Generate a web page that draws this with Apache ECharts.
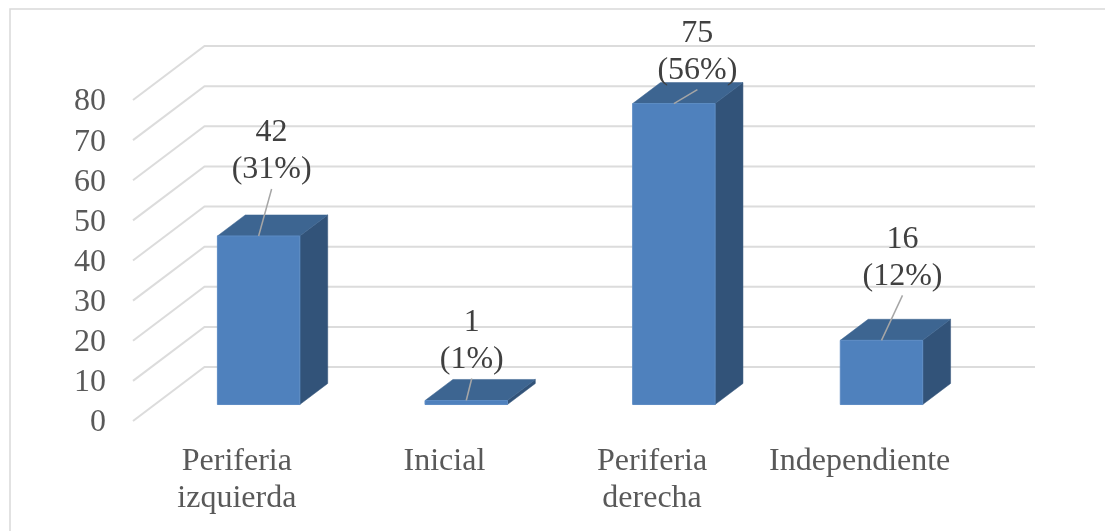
<!DOCTYPE html>
<html>
<head>
<meta charset="utf-8">
<style>html,body{margin:0;padding:0;background:#fff}#c{width:1105px;height:531px}</style>
<script src="https://cdn.jsdelivr.net/npm/echarts@6/dist/echarts.min.js"></script>
</head>
<body>
<div id="c"></div>
<script>
const categories = ['Periferia\nizquierda', 'Inicial', 'Periferia\nderecha', 'Independiente'];
const counts = [42, 1, 75, 16];
const percents = ['31%', '1%', '56%', '12%'];
const yTicks = [0, 10, 20, 30, 40, 50, 60, 70, 80];

// Label placement relative to each bar (layout, not data)
const labelShiftX = [13, 5.5, 23.5, 21];
const leaderLength = [47, 22, 14, 45];

const DEPTH_X = 71.5, DEPTH_Y = 54;
const BAR_NEAR = 0.305, BAR_FAR = 0.695, BAR_WIDTH = 0.397;
const SERIF = '"Liberation Serif","Times New Roman",serif';

function poly(points, fill) {
  return { type: 'polygon', shape: { points }, style: { fill, stroke: fill, lineWidth: 0.5 } };
}

const chart = echarts.init(document.getElementById('c'), null, { renderer: 'canvas' });
chart.setOption({
  animation: false,
  backgroundColor: '#ffffff',
  graphic: [{
    type: 'polyline', silent: true, z: 0,
    shape: { points: [[10, 531], [10, 9], [1105, 9]] },
    style: { stroke: '#d9d9d9', lineWidth: 1.5, fill: null }
  }],
  grid: { left: 133, right: 141.5, top: 100, height: 321, containLabel: false },
  xAxis: {
    type: 'category', data: categories,
    axisLine: { show: false }, axisTick: { show: false }, splitLine: { show: false },
    axisLabel: { interval: 0, margin: 22, color: '#595959', fontFamily: SERIF, fontSize: 32, lineHeight: 37, verticalAlign: 'top' }
  },
  yAxis: {
    type: 'value', min: 0, max: 80, interval: 10,
    axisLine: { show: false }, axisTick: { show: false }, splitLine: { show: false },
    axisLabel: { margin: 27, color: '#595959', fontFamily: SERIF, fontSize: 32, verticalAlign: 'top', lineHeight: 4 }
  },
  series: [
    {
      type: 'custom', coordinateSystem: 'cartesian2d', z: 1, silent: true, clip: false,
      data: yTicks.map(v => [0, v]),
      encode: { x: 0, y: 1 },
      renderItem(params, api) {
        const y = api.coord([0, api.value(1)])[1];
        const g = params.coordSys;
        return {
          type: 'polyline',
          shape: { points: [[g.x, y], [g.x + DEPTH_X, y - DEPTH_Y], [g.x + g.width + DEPTH_X, y - DEPTH_Y]] },
          style: { stroke: '#dcdcdc', lineWidth: 2, fill: null }
        };
      }
    },
    {
      type: 'custom', coordinateSystem: 'cartesian2d', z: 2, silent: true, clip: false,
      data: counts.map((v, i) => [i, v]),
      encode: { x: 0, y: 1 },
      renderItem(params, api) {
        const i = api.value(0), v = api.value(1);
        const center = api.coord([i, 0]);
        const top = api.coord([i, v]);
        const bw = api.size([1, 0])[0] * BAR_WIDTH;
        const ox = DEPTH_X * BAR_NEAR, oy = DEPTH_Y * BAR_NEAR;
        const dx = DEPTH_X * (BAR_FAR - BAR_NEAR), dy = DEPTH_Y * (BAR_FAR - BAR_NEAR);
        const l = center[0] + ox - bw / 2, r = l + bw;
        const b = center[1] - oy, t = top[1] - oy;
        const mid = (l + r) / 2;
        const lx = mid + labelShiftX[i], ly = t - leaderLength[i];
        const textStyle = (text, y) => ({
          type: 'text', x: lx, y,
          style: { text, fill: '#404040', font: '32px ' + SERIF, align: 'center', verticalAlign: 'middle' }
        });
        return {
          type: 'group',
          children: [
            poly([[r, b], [r + dx, b - dy], [r + dx, t - dy], [r, t]], '#325379'),
            poly([[l, t], [r, t], [r + dx, t - dy], [l + dx, t - dy]], '#3d6591'),
            { type: 'rect', shape: { x: l, y: t, width: bw, height: b - t },
              style: { fill: '#4f81bd', stroke: '#5d8cc4', lineWidth: 1 } },
            { type: 'line', shape: { x1: lx, y1: ly, x2: mid, y2: t },
              style: { stroke: '#a6a6a6', lineWidth: 1.5 } },
            textStyle(String(v), ly - 56),
            textStyle('(' + percents[i] + ')', ly - 19)
          ]
        };
      }
    }
  ]
});
</script>
</body>
</html>
